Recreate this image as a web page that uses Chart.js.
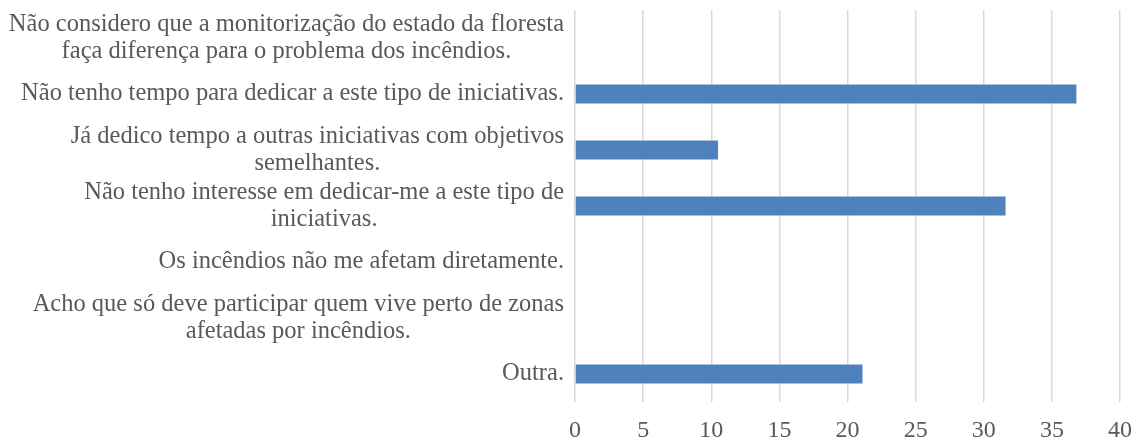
<!DOCTYPE html>
<html>
<head>
<meta charset="utf-8">
<title>Motivos</title>
<script src="https://cdn.jsdelivr.net/npm/chart.js@4.4.1/dist/chart.umd.min.js"></script>
<style>
    html, body { margin:0; padding:0; background:#ffffff; }
    #wrap { position:relative; width:1135px; height:441px; }
</style>
</head>
<body>
<div id="wrap"><canvas id="id_chart"></canvas></div>
<script>
// categorias (cada linha de texto e um elemento)
var categories = [
    ["Não considero que a monitorização do estado da floresta", "faça diferença para o problema dos incêndios."],
    ["Não tenho tempo para dedicar a este tipo de iniciativas."],
    ["Já dedico tempo a outras iniciativas com objetivos", "semelhantes."],
    ["Não tenho interesse em dedicar-me a este tipo de", "iniciativas."],
    ["Os incêndios não me afetam diretamente."],
    ["Acho que só deve participar quem vive perto de zonas", "afetadas por incêndios."],
    ["Outra."]
];
var values = [0, 36.8, 10.5, 31.6, 0, 0, 21.1];
var xTicks = [0, 5, 10, 15, 20, 25, 30, 35, 40];

var FONT = "'Liberation Serif', 'Times New Roman', serif";
var TEXT_COLOR = "#595959";

// desenha os rotulos do eixo y: linhas centradas entre si, bloco alinhado a direita
var _yLabelPlugin = {
    id: "yLabels",
    afterDraw: function( chart ){
        var ctx = chart.ctx;
        var yScale = chart.scales.y;
        var right = chart.chartArea.left - 11;
        var lineH = 27;
        ctx.save();
        ctx.font = "24.5px " + FONT;
        ctx.fillStyle = TEXT_COLOR;
        ctx.textAlign = "center";
        ctx.textBaseline = "middle";
        categories.forEach(function( lines, i ){
            var w = 0;
            lines.forEach(function( s ){ w = Math.max( w, ctx.measureText(s).width ); });
            var cx = right - w / 2;
            var cy = yScale.getPixelForTick(i);
            var y0 = cy - (lines.length - 1) * lineH / 2;
            lines.forEach(function( s, k ){
                ctx.fillText( s, cx, y0 + k * lineH );
            });
        });
        ctx.restore();
    }
};

var ctx = document.getElementById("id_chart").getContext("2d");
var myChart = new Chart(ctx, {
    "type" : "bar",
    "data" : {
        "labels" : categories.map(function(l){ return l.join(" "); }),
        "datasets" : [{
            "data" : values,
            "backgroundColor" : "#4F81BD",
            "borderWidth" : 0,
            "barPercentage" : 0.34,
            "categoryPercentage" : 1.0
        }]
    },
    "options" : {
        "indexAxis" : "y",
        "responsive" : true,
        "maintainAspectRatio" : false,
        "animation" : false,
        "layout" : { "padding" : { "top" : 10, "right" : 15, "left" : 0, "bottom" : 0 } },
        "plugins" : {
            "legend" : { "display" : false },
            "tooltip" : { "enabled" : false }
        },
        "scales" : {
            "x" : {
                "min" : xTicks[0],
                "max" : xTicks[xTicks.length - 1],
                "afterBuildTicks" : function( axis ){
                    axis.ticks = xTicks.map(function(v){ return { value : v }; });
                },
                "afterFit" : function( axis ){
                    axis.height = 39;
                    // o texto do ultimo tick nao deve encolher a area
                    axis.paddingLeft = 0;
                    axis.paddingRight = 0;
                },
                "grid" : { "color" : "#D9D9D9", "lineWidth" : 1.5, "drawTicks" : false },
                "border" : { "display" : false },
                "ticks" : {
                    "color" : TEXT_COLOR,
                    "font" : { "family" : FONT, "size" : 24 },
                    "padding" : 14,
                    "maxRotation" : 0
                }
            },
            "y" : {
                "afterFit" : function( axis ){ axis.width = 575; },
                "grid" : { "display" : false },
                "border" : { "display" : false },
                "ticks" : { "display" : false }
            }
        }
    },
    "plugins" : [ _yLabelPlugin ]
});
</script>
</body>
</html>
